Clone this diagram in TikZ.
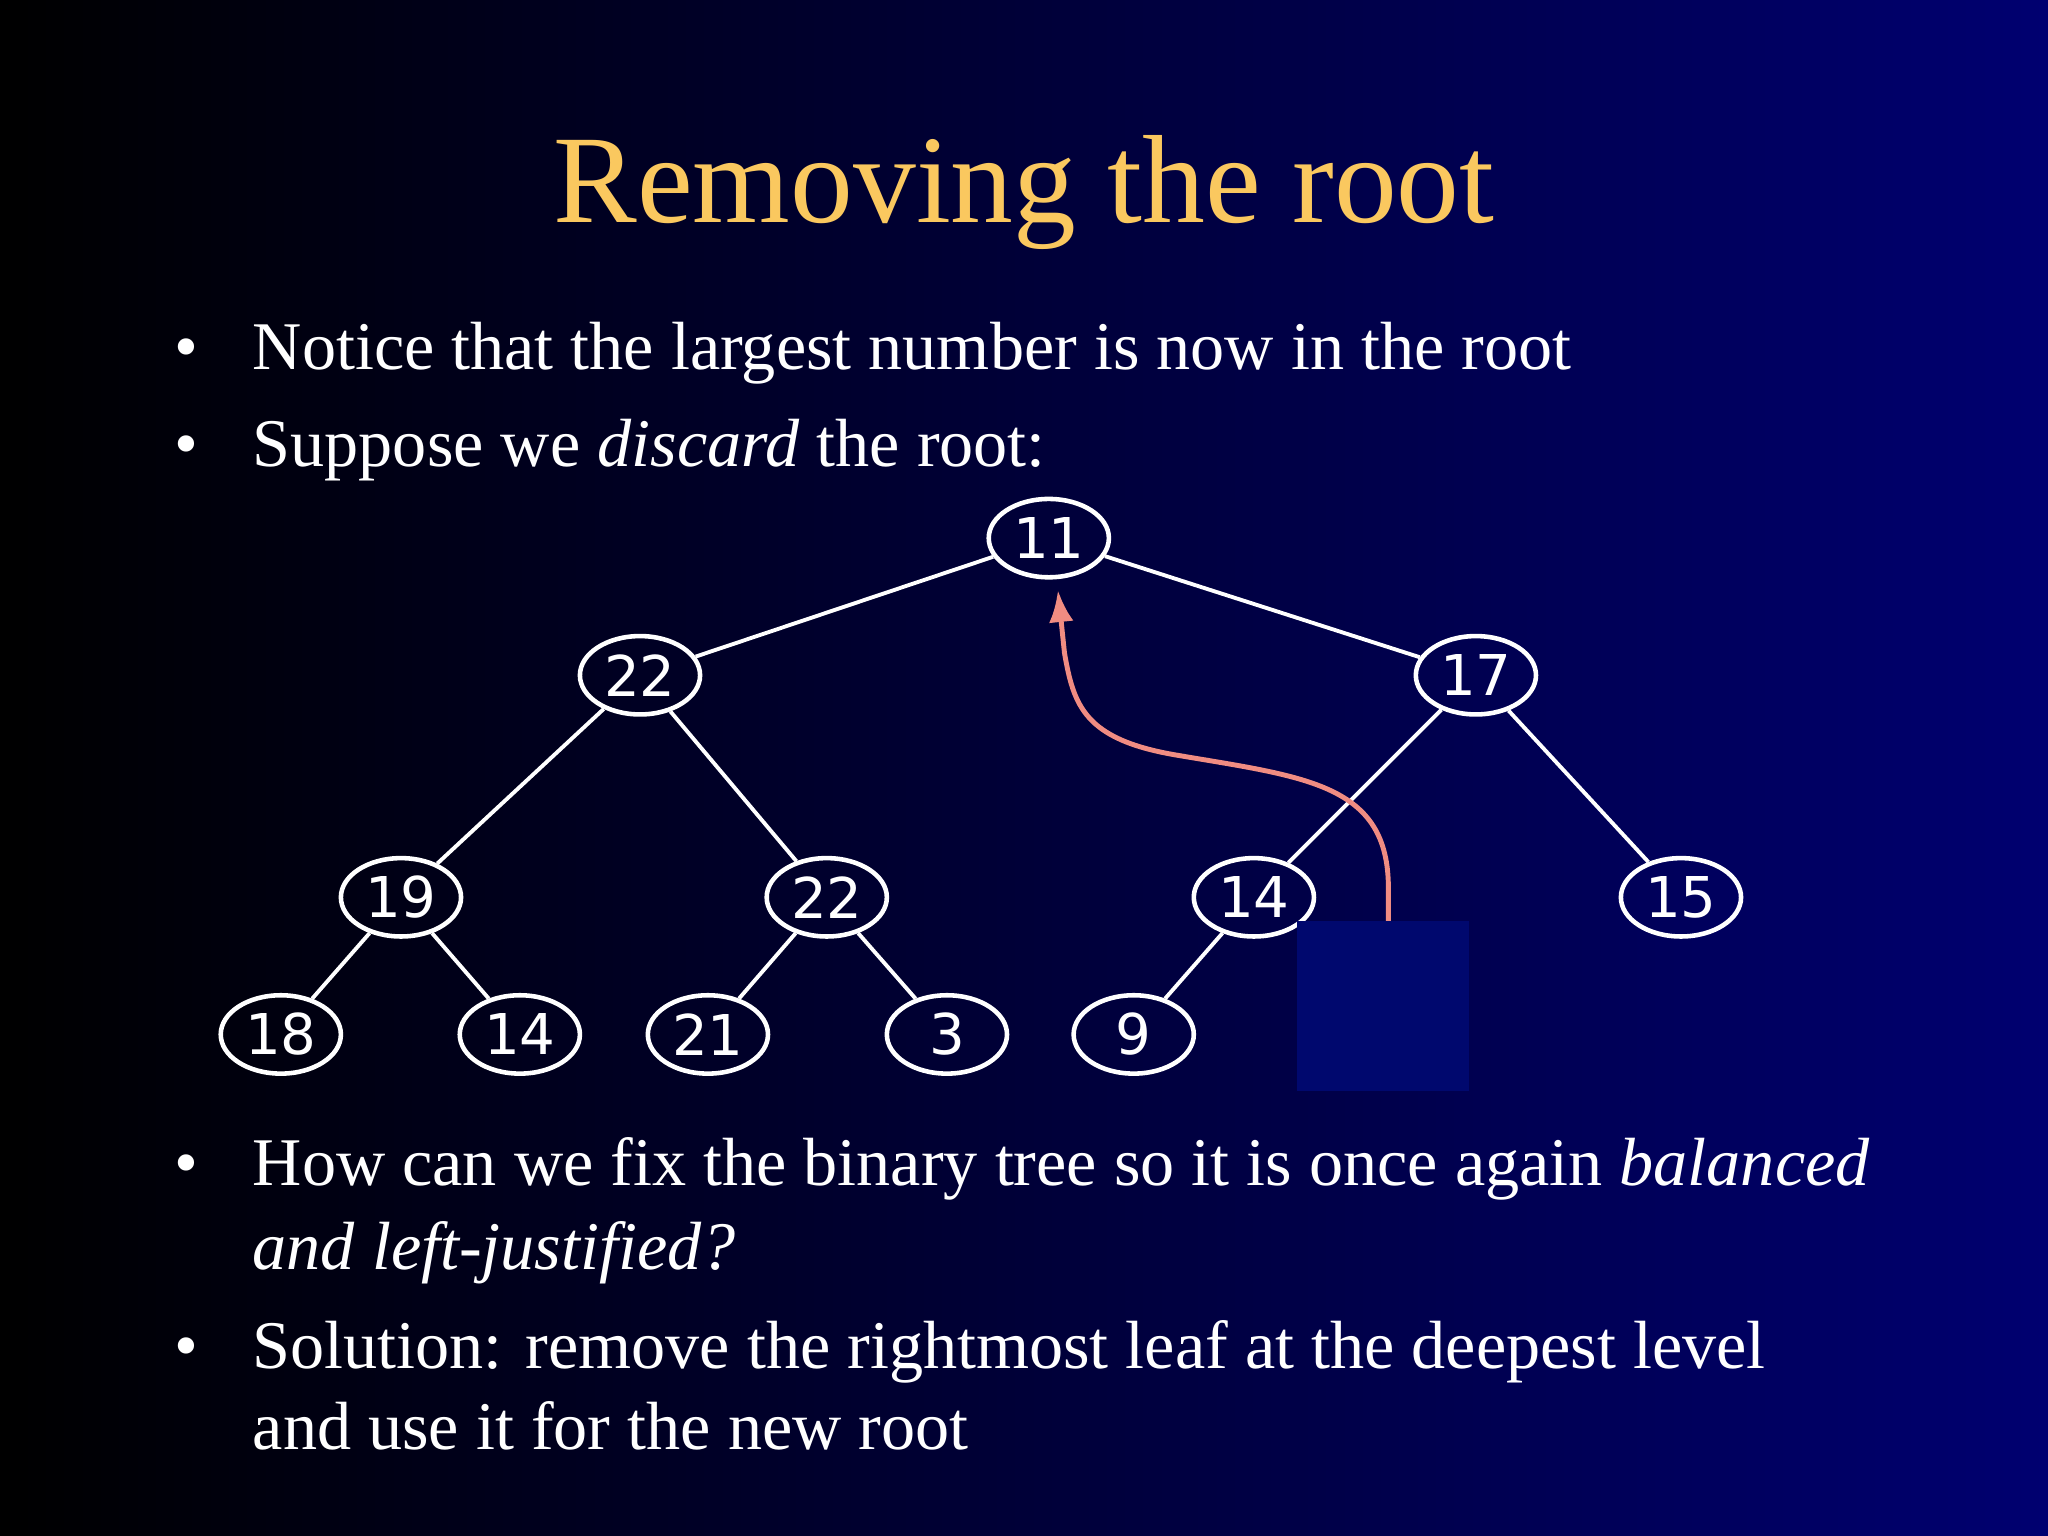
\documentclass[tikz,border=0pt]{standalone}
\usepackage{fontspec}
\setmainfont{Liberation Serif}
\newfontfamily\numfont{DejaVu Sans}
\usetikzlibrary{shapes.geometric,arrows.meta}
\definecolor{navyR}{RGB}{0,0,112}
\definecolor{titlecol}{RGB}{250,200,95}
\definecolor{boxcol}{RGB}{0,8,110}
\definecolor{arrcol}{RGB}{240,140,130}
\begin{document}
\begin{tikzpicture}[x=0.013061cm,y=-0.013061cm,
  hn/.style={draw=white,line width=1.3pt,ellipse,minimum width=92*0.013061cm,minimum height=60*0.013061cm,inner sep=0pt,text=white,font=\numfont\fontsize{16}{16}\selectfont},
  edge/.style={white,line width=1.1pt},
  txt/.style={anchor=base west,text=white,font=\fontsize{19.4}{24}\selectfont,inner sep=0pt},
  bul/.style={anchor=base,text=white,font=\fontsize{19.4}{24}\selectfont,inner sep=0pt}]
\shade[left color=black,right color=navyR] (0,0) rectangle (1568,1176);
\useasboundingbox (0,0) rectangle (1568,1176);
\node[anchor=base,text=titlecol,font=\fontsize{35.7}{36}\selectfont,inner sep=0pt] (title) at (784,170) {Removing the root};
\node[bul] (b1) at (143,283) {\textbullet};
\node[txt] (t1) at (193,283) {Notice that the largest number is now in the root};
\node[bul] (b2) at (143,357) {\textbullet};
\node[txt] (t2) at (193,357) {Suppose we \textit{discard} the root:};
\node[bul] (b3) at (143,908) {\textbullet};
\node[txt] (t3) at (193,908) {How can we fix the binary tree so it is once again \textit{balanced}};
\node[txt] (t3b) at (193,972) {\textit{and left-justified?}};
\node[bul] (b4) at (143,1048) {\textbullet};
\node[txt] (t4) at (193,1048) {Solution: remove the rightmost leaf at the deepest level};
\node[txt] (t4b) at (193,1110) {and use it for the new root};
\node[hn] (n11) at (803,412) {11};
\node[hn] (n22) at (490,517) {22};
\node[hn] (n17) at (1130,517) {17};
\node[hn] (n19) at (307,687) {19};
\node[hn] (n22b) at (633,687) {22};
\node[hn] (n14) at (960,687) {14};
\node[hn] (n15) at (1287,687) {15};
\node[hn] (n18) at (215,792) {18};
\node[hn] (n14b) at (398,792) {14};
\node[hn] (n21) at (542,792) {21};
\node[hn] (n3) at (725,792) {3};
\node[hn] (n9) at (868,792) {9};
\draw[edge] (n11)--(n22); \draw[edge] (n11)--(n17);
\draw[edge] (n22)--(n19); \draw[edge] (n22)--(n22b);
\draw[edge] (n17)--(n14); \draw[edge] (n17)--(n15);
\draw[edge] (n19)--(n18); \draw[edge] (n19)--(n14b);
\draw[edge] (n22b)--(n21); \draw[edge] (n22b)--(n3);
\draw[edge] (n14)--(n9);
\fill[boxcol] (993,705) rectangle (1125,835);
\coordinate (src) at (1063,705);
\draw[arrcol,line width=1.4pt,-{Latex[length=9pt,width=7pt]}] (src) -- (1063,680) .. controls (1063,600) and (1000,595) .. (900,578) .. controls (830,566) and (822,540) .. (815,500) -- (810,452);
\end{tikzpicture}
\end{document}
